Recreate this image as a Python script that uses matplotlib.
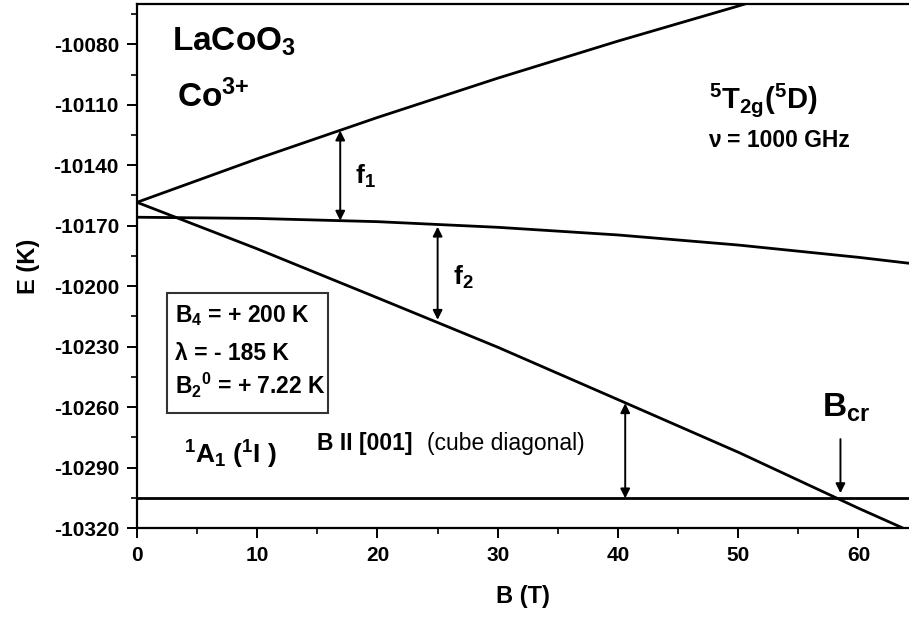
import numpy as np
import matplotlib.pyplot as plt
from matplotlib.patches import Rectangle
from matplotlib.ticker import MultipleLocator

plt.rcParams['font.family'] = ['Liberation Sans', 'DejaVu Sans']
plt.rcParams['font.weight'] = 'bold'
plt.rcParams['axes.unicode_minus'] = False
plt.rcParams['mathtext.fontset'] = 'custom'
plt.rcParams['mathtext.rm'] = 'Liberation Sans:bold'
plt.rcParams['mathtext.it'] = 'Liberation Sans:bold'
plt.rcParams['mathtext.bf'] = 'Liberation Sans:bold'

# levels, B in T, E in K
B_up = [0, 10, 20, 30, 40, 50, 53]
E_up = [-10158.4, -10136.8, -10116.3, -10096.8, -10078.4, -10061.0, -10055.5]

B_mid = [0, 10, 20, 30, 40, 50, 60, 65]
E_mid = [-10165.8, -10166.4, -10168.0, -10170.8, -10174.6, -10179.6, -10185.7, -10189.2]

B_low = [0, 10, 20, 30, 40, 50, 60, 65]
E_low = [-10158.4, -10181.5, -10205.8, -10230.3, -10256.3, -10282.4, -10310.2, -10323.5]

B_singlet = [0, 65]
E_singlet = [-10305.3, -10305.3]

# double arrows f1, f2 and gap
arrow_B = [16.9, 25.0, 40.6]
arrow_top = [-10122.8, -10170.5, -10258.1]
arrow_bot = [-10167.5, -10216.7, -10305.3]

B_cr = 58.5
B_cr_arrow = [-10275.9, -10302.7]

fig = plt.figure(figsize=(9.09, 6.17), dpi=100)
ax = fig.add_axes([137/909, 89/617, 772/909, 524/617])

lw = 2.0
ax.plot(B_up, E_up, color='k', lw=lw)
ax.plot(B_mid, E_mid, color='k', lw=lw)
ax.plot(B_low, E_low, color='k', lw=lw)
ax.plot(B_singlet, E_singlet, color='k', lw=lw)

for b, t, d in zip(arrow_B, arrow_top, arrow_bot):
    ax.annotate('', xy=(b, t), xytext=(b, d),
                arrowprops=dict(arrowstyle='<|-|>', color='k', lw=1.4,
                                mutation_scale=14, shrinkA=0, shrinkB=0))
ax.annotate('', xy=(B_cr, B_cr_arrow[1]), xytext=(B_cr, B_cr_arrow[0]),
            arrowprops=dict(arrowstyle='-|>', color='k', lw=1.4,
                            mutation_scale=14, shrinkA=0, shrinkB=0))

ax.set_xlim(0, 64.2)
ax.set_ylim(-10320, -10060)
ax.xaxis.set_major_locator(MultipleLocator(10))
ax.xaxis.set_minor_locator(MultipleLocator(5))
ax.yaxis.set_major_locator(MultipleLocator(30))
ax.yaxis.set_minor_locator(MultipleLocator(15))
ax.tick_params(which='major', direction='out', length=7, width=1.4, labelsize=15, pad=6)
ax.tick_params(which='minor', direction='out', length=4, width=1.2)
for lab in ax.get_xticklabels() + ax.get_yticklabels():
    lab.set_fontweight('bold')
for s in ['left', 'bottom', 'top']:
    ax.spines[s].set_linewidth(1.6)
ax.spines['right'].set_visible(False)

ax.set_xlabel('B (T)', fontsize=17, fontweight='bold', labelpad=14)
ax.set_ylabel('E (K)', fontsize=17, fontweight='bold', labelpad=10)

ax.text(2.9, -10083, 'LaCoO$_3$', fontsize=24, fontweight='bold')
ax.text(3.3, -10111.4, 'Co$^{3{+}}$', fontsize=24, fontweight='bold')
ax.text(47.6, -10111.9, '$^5$T$_{2g}$($^5$D)', fontsize=21, fontweight='bold')
ax.text(47.5, -10130.9, 'ν = 1000 GHz', fontsize=16.5, fontweight='bold')
ax.text(18.1, -10149, 'f$_1$', fontsize=19, fontweight='bold')
ax.text(26.3, -10199.4, 'f$_2$', fontsize=19, fontweight='bold')

ax.add_patch(Rectangle((2.46, -10263.0), 13.4, 59.8, fill=False,
                       edgecolor='#333333', lw=1.5))
ax.text(3.2, -10217.7, 'B$_4$ = + 200 K', fontsize=16.5, fontweight='bold')
ax.text(3.2, -10236.4, 'λ = - 185 K', fontsize=16.5, fontweight='bold')
ax.text(3.2, -10253.6, 'B$_2$$^0$ = + 7.22 K', fontsize=16.5, fontweight='bold')

ax.text(14.95, -10281.3, 'B II [001]', fontsize=16.5, fontweight='bold')
ax.text(24.1, -10281.3, '(cube diagonal)', fontsize=16.5, fontweight='normal')
ax.text(3.9, -10287.9, '$^1$A$_1$ ($^1$I )', fontsize=19, fontweight='bold')
ax.text(57.0, -10264.8, 'B$_{cr}$', fontsize=24, fontweight='bold')

plt.savefig('out.png', dpi=100)
